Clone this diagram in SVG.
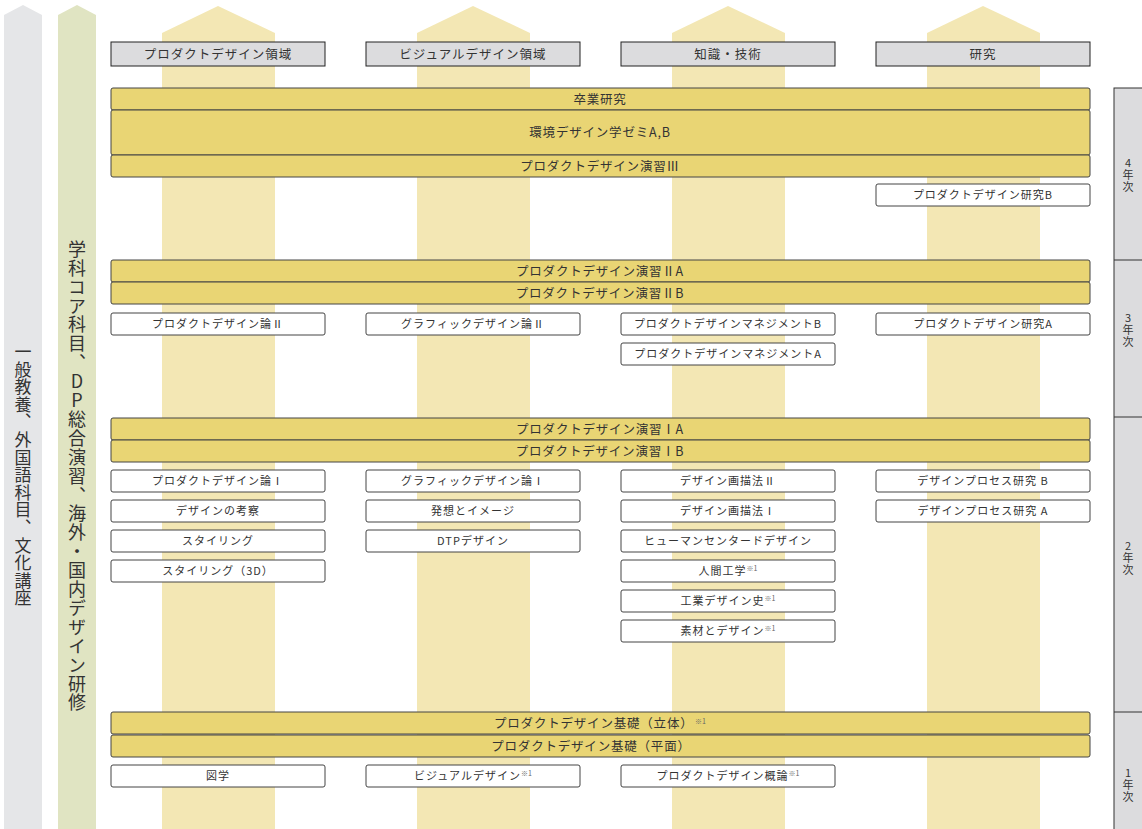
<svg xmlns="http://www.w3.org/2000/svg" width="1142" height="829" viewBox="0 0 1142 829">
<style>
text{font-family:"Noto Sans CJK JP","Noto Sans",sans-serif;fill:#333;}
.col{fill:#F3E7B4;}
.hd{fill:#DCDCDE;stroke:#222;stroke-width:1;}
.bar{fill:#E9D574;stroke:#444;stroke-width:1;}
.box{fill:#fff;stroke:#444;stroke-width:1;}
.ht{font-size:12.5px;letter-spacing:1px;text-anchor:middle;}
.bt{font-size:12.5px;letter-spacing:0.8px;text-anchor:middle;}
.t{font-size:11px;letter-spacing:1px;text-anchor:middle;}
.sup{font-size:7px;letter-spacing:0;fill:#666;}
.yr{font-size:11px;letter-spacing:1px;}
.vt{writing-mode:vertical-rl;text-orientation:upright;}
</style>
<g id="side-bars">
<polygon points="4,15 23,5 42,15 42,829 4,829" fill="#E5E6E8"/>
<polygon points="58,15 77,5 96,15 96,829 58,829" fill="#E0E4C2"/>
<text class="vt" x="23" y="343" style="font-size:17px;letter-spacing:0.6px;">一般教養、外国語科目、文化講座</text>
<text class="vt" x="77" y="240" style="font-size:18px;letter-spacing:0.9px;">学科コア科目、DP総合演習、海外・国内デザイン研修</text>
</g>
<g id="columns">
<polygon class="col" points="162,33 218,6 275,33 275,829 162,829"/>
<polygon class="col" points="417,33 473,6 530,33 530,829 417,829"/>
<polygon class="col" points="672,33 728,6 785,33 785,829 672,829"/>
<polygon class="col" points="927,33 983,6 1040,33 1040,829 927,829"/>
</g>
<g id="headers">
<rect class="hd" x="111" y="42" width="214" height="24"/><text class="ht" x="218" y="58.5">プロダクトデザイン領域</text>
<rect class="hd" x="366" y="42" width="214" height="24"/><text class="ht" x="473" y="58.5">ビジュアルデザイン領域</text>
<rect class="hd" x="621" y="42" width="214" height="24"/><text class="ht" x="728" y="58.5">知識・技術</text>
<rect class="hd" x="876" y="42" width="214" height="24"/><text class="ht" x="983" y="58.5">研究</text>
</g>
<g id="years">
<rect x="1114" y="88" width="32" height="745" fill="#DCDCDE" stroke="#333" stroke-width="1"/>
<line x1="1114" y1="260" x2="1142" y2="260" stroke="#333"/>
<line x1="1114" y1="417" x2="1142" y2="417" stroke="#333"/>
<line x1="1114" y1="712" x2="1142" y2="712" stroke="#333"/>
<text class="yr vt" x="1128" y="157">4年次</text>
<text class="yr vt" x="1128" y="312">3年次</text>
<text class="yr vt" x="1128" y="540">2年次</text>
<text class="yr vt" x="1128" y="767">1年次</text>
</g>
<g id="year4">
<rect class="bar" x="111" y="88" width="979" height="22" rx="2"/><text class="bt" x="600" y="103.5">卒業研究</text>
<rect class="bar" x="111" y="110" width="979" height="45" rx="2"/><text class="bt" x="600" y="137">環境デザイン学ゼミA,B</text>
<rect class="bar" x="111" y="155" width="979" height="22" rx="2"/><text class="bt" x="600" y="170.5">プロダクトデザイン演習Ⅲ</text>
<rect class="box" x="876" y="184" width="214" height="22" rx="2"/><text class="t" x="983" y="199">プロダクトデザイン研究B</text>
</g>
<g id="year3">
<rect class="bar" x="111" y="260" width="979" height="22" rx="2"/><text class="bt" x="600" y="275.5">プロダクトデザイン演習ⅡA</text>
<rect class="bar" x="111" y="282" width="979" height="22" rx="2"/><text class="bt" x="600" y="297.5">プロダクトデザイン演習ⅡB</text>
<rect class="box" x="111" y="313" width="214" height="22" rx="2"/><text class="t" x="218" y="328">プロダクトデザイン論Ⅱ</text>
<rect class="box" x="366" y="313" width="214" height="22" rx="2"/><text class="t" x="473" y="328">グラフィックデザイン論Ⅱ</text>
<rect class="box" x="621" y="313" width="214" height="22" rx="2"/><text class="t" x="728" y="328">プロダクトデザインマネジメントB</text>
<rect class="box" x="876" y="313" width="214" height="22" rx="2"/><text class="t" x="983" y="328">プロダクトデザイン研究A</text>
<rect class="box" x="621" y="343" width="214" height="22" rx="2"/><text class="t" x="728" y="358">プロダクトデザインマネジメントA</text>
</g>
<g id="year2">
<rect class="bar" x="111" y="418" width="979" height="22" rx="2"/><text class="bt" x="600" y="433.5">プロダクトデザイン演習ⅠA</text>
<rect class="bar" x="111" y="440" width="979" height="22" rx="2"/><text class="bt" x="600" y="455.5">プロダクトデザイン演習ⅠB</text>
<rect class="box" x="111" y="470" width="214" height="22" rx="2"/><text class="t" x="218" y="485">プロダクトデザイン論Ⅰ</text>
<rect class="box" x="111" y="500" width="214" height="22" rx="2"/><text class="t" x="218" y="515">デザインの考察</text>
<rect class="box" x="111" y="530" width="214" height="22" rx="2"/><text class="t" x="218" y="545">スタイリング</text>
<rect class="box" x="111" y="560" width="214" height="22" rx="2"/><text class="t" x="218" y="575">スタイリング（3D）</text>
<rect class="box" x="366" y="470" width="214" height="22" rx="2"/><text class="t" x="473" y="485">グラフィックデザイン論Ⅰ</text>
<rect class="box" x="366" y="500" width="214" height="22" rx="2"/><text class="t" x="473" y="515">発想とイメージ</text>
<rect class="box" x="366" y="530" width="214" height="22" rx="2"/><text class="t" x="473" y="545">DTPデザイン</text>
<rect class="box" x="621" y="470" width="214" height="22" rx="2"/><text class="t" x="728" y="485">デザイン画描法Ⅱ</text>
<rect class="box" x="621" y="500" width="214" height="22" rx="2"/><text class="t" x="728" y="515">デザイン画描法Ⅰ</text>
<rect class="box" x="621" y="530" width="214" height="22" rx="2"/><text class="t" x="728" y="545">ヒューマンセンタードデザイン</text>
<rect class="box" x="621" y="560" width="214" height="22" rx="2"/><text class="t" x="728" y="575">人間工学<tspan class="sup" dy="-4">※1</tspan></text>
<rect class="box" x="621" y="590" width="214" height="22" rx="2"/><text class="t" x="728" y="605">工業デザイン史<tspan class="sup" dy="-4">※1</tspan></text>
<rect class="box" x="621" y="620" width="214" height="22" rx="2"/><text class="t" x="728" y="635">素材とデザイン<tspan class="sup" dy="-4">※1</tspan></text>
<rect class="box" x="876" y="470" width="214" height="22" rx="2"/><text class="t" x="983" y="485">デザインプロセス研究 B</text>
<rect class="box" x="876" y="500" width="214" height="22" rx="2"/><text class="t" x="983" y="515">デザインプロセス研究 A</text>
</g>
<g id="year1">
<rect class="bar" x="111" y="712" width="979" height="22" rx="2"/><text class="bt" x="600" y="727.5">プロダクトデザイン基礎（立体）<tspan class="sup" dy="-4"> ※1</tspan></text>
<rect class="bar" x="111" y="735" width="979" height="22" rx="2"/><text class="bt" x="591" y="750.5">プロダクトデザイン基礎（平面）</text>
<rect class="box" x="111" y="765" width="214" height="22" rx="2"/><text class="t" x="218" y="780">図学</text>
<rect class="box" x="366" y="765" width="214" height="22" rx="2"/><text class="t" x="473" y="780">ビジュアルデザイン<tspan class="sup" dy="-4">※1</tspan></text>
<rect class="box" x="621" y="765" width="214" height="22" rx="2"/><text class="t" x="728" y="780">プロダクトデザイン概論<tspan class="sup" dy="-4">※1</tspan></text>
</g>
<g id="connectors"></g>
</svg>
